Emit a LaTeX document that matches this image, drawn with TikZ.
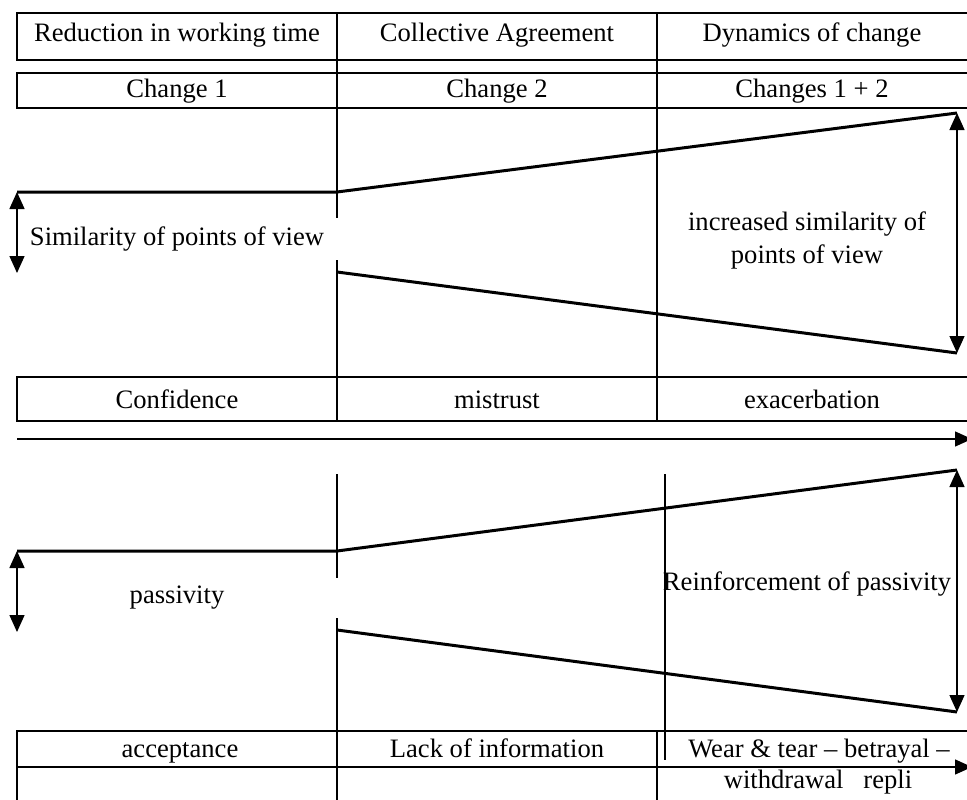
\documentclass[tikz,border=0pt]{standalone}
\usepackage{fontspec}
\setmainfont{Liberation Serif}
\usetikzlibrary{arrows.meta}
\begin{document}
\begin{tikzpicture}[x=1pt,y=-1pt,
  thinline/.style={line width=1.4pt},
  thickline/.style={line width=3pt},
  dbl/.style={line width=1.4pt,{Triangle[length=17pt,width=15pt]}-{Triangle[length=17pt,width=15pt]}},
  fwd/.style={line width=1.4pt,-{Triangle[length=17pt,width=15pt]}},
  lbl/.style={font=\fontsize{26.6}{32}\selectfont, inner sep=0pt, anchor=base}
]
\useasboundingbox (0,0) rectangle (967,800);
\clip (0,0) rectangle (967,800);

% ---------- upper part ----------
\draw[thinline] (17,13) rectangle (975,60);
\draw[thinline] (17,73) rectangle (975,108);
\draw[thinline] (17,377) rectangle (975,421);
\draw[thinline] (337,13) -- (337,421);
\draw[thinline] (657,13) -- (657,421);

\coordinate (uL) at (17,192);
\coordinate (uM) at (337,192);
\coordinate (uR) at (957,113);
\coordinate (uLowM) at (337,272);
\coordinate (uLowR) at (957,353);
\coordinate (uArrB) at (17,273);

\draw[thickline] (uL) -- (uM) -- (uR);
\draw[thickline] (uLowM) -- (uLowR);
\draw[dbl] (uL) -- (uArrB);
\draw[dbl] (uR) -- (uLowR);

\fill[white] (26,218) rectangle (338.5,260);
\node[lbl] (sim) at (177,245) {Similarity of points of view};
\node[lbl] (incsim) at (807,230) {increased similarity of};
\node[lbl] (incsim2) at (807,263) {points of view};

\node[lbl] (t1) at (177,42) {Reduction in working time};
\node[lbl] (t2) at (497,42) {Collective Agreement};
\node[lbl] (t3) at (812,42) {Dynamics of change};
\node[lbl] (c1) at (177,98) {Change 1};
\node[lbl] (c2) at (497,98) {Change 2};
\node[lbl] (c3) at (812,98) {Changes 1 + 2};
\node[lbl] (f1) at (177,408) {Confidence};
\node[lbl] (f2) at (497,408) {mistrust};
\node[lbl] (f3) at (812,408) {exacerbation};

% ---------- middle arrow ----------
\coordinate (mA) at (17,439);
\coordinate (mB) at (972,439);
\draw[fwd] (mA) -- (mB);

% ---------- lower part ----------
\draw[thinline] (337,474) -- (337,805);
\draw[thinline] (665,474) -- (665,760);
\draw[thinline] (657,731) -- (657,805);
\draw[thinline] (17,805) -- (17,731) -- (975,731);
\coordinate (bA) at (17,767);
\coordinate (bB) at (972,767);
\draw[fwd] (bA) -- (bB);

\coordinate (lL) at (17,551);
\coordinate (lM) at (337,551);
\coordinate (lR) at (957,470);
\coordinate (lLowM) at (337,630);
\coordinate (lLowR) at (957,712);
\coordinate (lArrB) at (17,632);

\draw[thickline] (lL) -- (lM) -- (lR);
\draw[thickline] (lLowM) -- (lLowR);
\draw[dbl] (lL) -- (lArrB);
\draw[dbl] (lR) -- (lLowR);

\fill[white] (26,578) rectangle (338.5,618);
\node[lbl] (pas) at (177,603) {passivity};
\node[lbl] (reinf) at (807,590) {Reinforcement of passivity};

\node[lbl] (a1) at (180,757) {acceptance};
\node[lbl] (a2) at (497,757) {Lack of information};
\node[lbl] (a3) at (819,757) {Wear \& tear -- betrayal --};
\node[lbl] (a4) at (818,788) {withdrawal\ \ \ repli};
\end{tikzpicture}
\end{document}
